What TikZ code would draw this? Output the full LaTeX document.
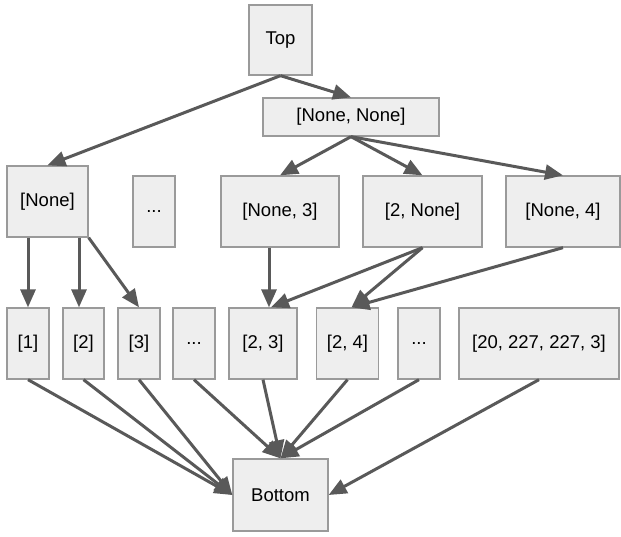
\documentclass[tikz,border=0pt]{standalone}
\usepackage{fontspec}
\setmainfont{Liberation Sans}
\usetikzlibrary{arrows.meta}
\definecolor{boxfill}{HTML}{EEEEEE}
\definecolor{boxline}{HTML}{9A9A9A}
\definecolor{arrowc}{HTML}{595959}
\tikzset{
  box/.style={draw=boxline, fill=boxfill, line width=1.3pt, inner sep=0pt,
    font=\fontsize{18.5pt}{22pt}\selectfont, text=black},
  conn/.style={draw=arrowc, line width=3pt,
    -{Triangle[length=18pt,width=15pt]}}
}
\begin{document}
\begin{tikzpicture}[x=1pt,y=-1pt]
\useasboundingbox (0,0) rectangle (621,537);
% top levels
\node[box, minimum width=63pt, minimum height=70pt] (top) at (280.5,40) {Top};
\node[box, minimum width=176pt, minimum height=38pt] (nn) at (351,117) {[None, None]};
% middle row
\node[box, minimum width=81pt, minimum height=71pt] (none) at (47.5,201.5) {[None]};
\node[box, minimum width=42pt, minimum height=71pt] (dotsA) at (154,211.5) {...};
\node[box, minimum width=118pt, minimum height=71pt] (n3) at (280,211.5) {[None, 3]};
\node[box, minimum width=119pt, minimum height=71pt] (twoN) at (422.5,211.5) {[2, None]};
\node[box, minimum width=114pt, minimum height=71pt] (n4) at (563,211.5) {[None, 4]};
% lower row
\node[box, minimum width=42pt, minimum height=71pt] (b1) at (28,343.5) {[1]};
\node[box, minimum width=41pt, minimum height=71pt] (b2) at (83.5,343.5) {[2]};
\node[box, minimum width=42pt, minimum height=71pt] (b3) at (139,343.5) {[3]};
\node[box, minimum width=42pt, minimum height=71pt] (bd1) at (194,343.5) {...};
\node[box, minimum width=68pt, minimum height=71pt] (b23) at (263,343.5) {[2, 3]};
\node[box, minimum width=62pt, minimum height=71pt] (b24) at (347.5,343.5) {[2, 4]};
\node[box, minimum width=42pt, minimum height=71pt] (bd2) at (419,343.5) {...};
\node[box, minimum width=160pt, minimum height=71pt] (big) at (539,343.5) {[20, 227, 227, 3]};
% bottom
\node[box, minimum width=95pt, minimum height=72pt] (bottom) at (280.5,495) {Bottom};
% connectors
\draw[conn] (top.south) -- (none.north);
\draw[conn] (top.south) -- (nn.north);
\draw[conn] (nn.south) -- (n3.north);
\draw[conn] (nn.south) -- (twoN.north);
\draw[conn] (nn.south) -- (n4.north);
\draw[conn] (b1.north |- none.south) -- (b1.north);
\draw[conn] ([xshift=-4.5pt]b2.north |- none.south) -- ([xshift=-4.5pt]b2.north);
\draw[conn] (none.south east) -- (b3.north);
\draw[conn] ([xshift=6pt]b23.north |- n3.south) -- ([xshift=6pt]b23.north);
\draw[conn] (twoN.south) -- ([xshift=8pt]b23.north);
\draw[conn] (twoN.south) -- ([xshift=4pt]b24.north);
\draw[conn] (n4.south) -- ([xshift=4pt]b24.north);
\draw[conn] (b1.south) -- (bottom.west);
\draw[conn] (b2.south) -- (bottom.west);
\draw[conn] (b3.south) -- (bottom.west);
\draw[conn] (bd1.south) -- (bottom.north);
\draw[conn] (b23.south) -- (bottom.north);
\draw[conn] (b24.south) -- (bottom.north);
\draw[conn] (bd2.south) -- (bottom.north);
\draw[conn] (big.south) -- (bottom.east);
\end{tikzpicture}
\end{document}
